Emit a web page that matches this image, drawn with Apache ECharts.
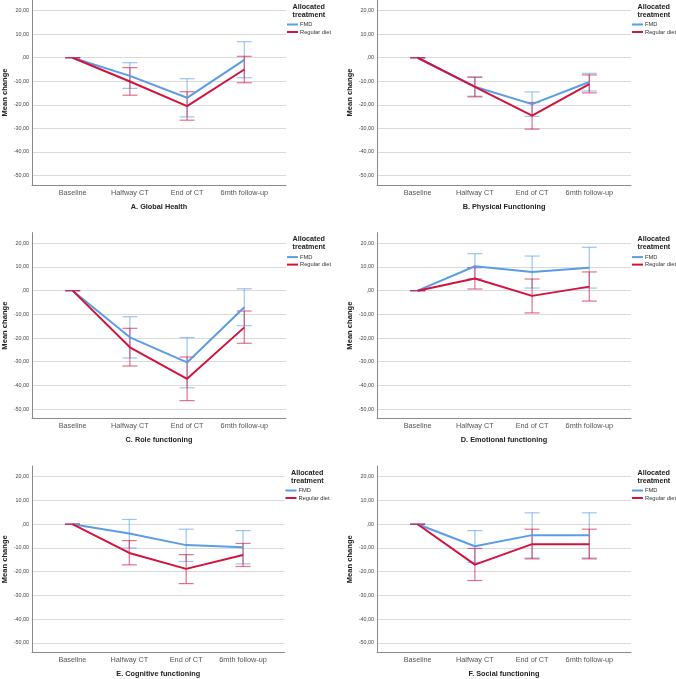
<!DOCTYPE html>
<html>
<head>
<meta charset="utf-8">
<script src="https://cdn.jsdelivr.net/npm/echarts@6/dist/echarts.min.js"></script>
<style>
html,body{margin:0;padding:0;background:#fff;}
#chart{width:676px;height:679px;}
</style>
</head>
<body>
<div id="chart"></div>
<script>
const categories = ['Baseline', 'Halfway CT', 'End of CT', '6mth follow-up'];
const panelTitles = ['A. Global Health', 'B. Physical Functioning', 'C. Role functioning',
  'D. Emotional functioning', 'E. Cognitive functioning', 'F. Social functioning'];
const groupNames = ['FMD', 'Regular diet'];
const yTickValues = [20, 10, 0, -10, -20, -30, -40, -50];

// Panel A
const fmdA = [0, -7.7, -17.0, -0.9];
const fmdA_lo = [0, -13.0, -25.1, -8.5];
const fmdA_hi = [0, -2.1, -8.9, 6.8];
const regA = [0, -10.1, -20.5, -5.0];
const regA_lo = [0, -15.9, -26.5, -10.6];
const regA_hi = [0, -4.2, -14.4, 0.6];
// Panel B
const fmdB = [0, -12.3, -19.7, -10.3];
const fmdB_lo = [0, -16.3, -24.9, -14.1];
const fmdB_hi = [0, -8.3, -14.5, -6.6];
const regB = [0, -12.4, -24.6, -11.2];
const regB_lo = [0, -16.6, -30.3, -14.9];
const regB_hi = [0, -8.2, -19.0, -7.3];
// Panel C
const fmdC = [0, -19.7, -30.3, -7.0];
const fmdC_lo = [0, -28.4, -41.0, -14.8];
const fmdC_hi = [0, -11.0, -19.8, 0.8];
const regC = [0, -23.9, -37.2, -15.5];
const regC_lo = [0, -31.8, -46.4, -22.2];
const regC_hi = [0, -15.9, -28.0, -8.6];
// Panel D
const fmdD = [0, 10.3, 7.9, 9.7];
const fmdD_lo = [0, 5.1, 1.1, 1.1];
const fmdD_hi = [0, 15.6, 14.6, 18.3];
const regD = [0, 5.1, -2.2, 1.7];
const regD_lo = [0, 0.7, -9.4, -4.4];
const regD_hi = [0, 9.7, 4.9, 7.9];
// Panel E
const fmdE = [0, -3.9, -8.8, -9.7];
const fmdE_lo = [0, -10.0, -15.7, -16.7];
const fmdE_hi = [0, 2.0, -2.1, -2.7];
const regE = [0, -12.1, -18.8, -13.0];
const regE_lo = [0, -17.1, -25.0, -17.8];
const regE_hi = [0, -6.9, -12.8, -8.1];
// Panel F
const fmdF = [0, -9.3, -4.6, -4.6];
const fmdF_lo = [0, -16.1, -14.2, -14.2];
const fmdF_hi = [0, -2.7, 4.8, 4.8];
const regF = [0, -17.0, -8.4, -8.4];
const regF_lo = [0, -23.7, -14.6, -14.6];
const regF_hi = [0, -10.2, -2.1, -2.1];

const panels = [
  {fmd: fmdA, fmdLo: fmdA_lo, fmdHi: fmdA_hi, reg: regA, regLo: regA_lo, regHi: regA_hi},
  {fmd: fmdB, fmdLo: fmdB_lo, fmdHi: fmdB_hi, reg: regB, regLo: regB_lo, regHi: regB_hi},
  {fmd: fmdC, fmdLo: fmdC_lo, fmdHi: fmdC_hi, reg: regC, regLo: regC_lo, regHi: regC_hi},
  {fmd: fmdD, fmdLo: fmdD_lo, fmdHi: fmdD_hi, reg: regD, regLo: regD_lo, regHi: regD_hi},
  {fmd: fmdE, fmdLo: fmdE_lo, fmdHi: fmdE_hi, reg: regE, regLo: regE_lo, regHi: regE_hi},
  {fmd: fmdF, fmdLo: fmdF_lo, fmdHi: fmdF_hi, reg: regF, regLo: regF_lo, regHi: regF_hi}
];

// layout
const gridBoxes = [
  {left: 32, top: 0, width: 254, height: 185},
  {left: 377, top: 0, width: 254, height: 185},
  {left: 32, top: 232.6, width: 254, height: 186},
  {left: 377, top: 232.6, width: 254, height: 186},
  {left: 31, top: 466, width: 253.5, height: 186.5},
  {left: 377, top: 466, width: 254, height: 186.5}
];

const FONT = 'Liberation Sans, Arial, sans-serif';
const BLUE = '#5B9CE6';
const RED = '#D2123F';
const BLUE_ERR = 'rgba(91,156,230,0.6)';
const RED_ERR = 'rgba(210,18,63,0.6)';

function fmtY(v) {
  if (Math.abs(v % 10) > 1e-6) return '';
  if (v === 0) return ',00';
  return v.toFixed(2).replace('.', ',');
}
function fmtX(v) {
  const r = Math.round(v);
  if (Math.abs(v - r) > 1e-6 || r < 0 || r > 3) return '';
  return categories[r];
}

function errRender(color) {
  return function (params, api) {
    const x = api.value(0);
    const p1 = api.coord([x, api.value(1)]);
    const p2 = api.coord([x, api.value(2)]);
    const hw = 7.5;
    const style = {stroke: color, lineWidth: 1.2};
    return {
      type: 'group',
      children: [
        {type: 'line', shape: {x1: p1[0], y1: p1[1], x2: p2[0], y2: p2[1]}, style: style},
        {type: 'line', shape: {x1: p1[0] - hw, y1: p1[1], x2: p1[0] + hw, y2: p1[1]}, style: style},
        {type: 'line', shape: {x1: p2[0] - hw, y1: p2[1], x2: p2[0] + hw, y2: p2[1]}, style: style}
      ]
    };
  };
}

const grid = [], xAxis = [], yAxis = [], series = [], legend = [], title = [];
panels.forEach((p, i) => {
  const g = gridBoxes[i];
  grid.push({left: g.left, top: g.top, width: g.width, height: g.height, containLabel: false});
  xAxis.push({
    type: 'value', gridIndex: i, min: -0.711, max: 3.729, minInterval: 1, maxInterval: 1, splitNumber: 4,
    axisLine: {show: true, onZero: false, lineStyle: {color: '#8a8a8a', width: 1}},
    axisTick: {show: false},
    splitLine: {show: false},
    axisLabel: {formatter: fmtX, fontSize: 7.3, color: '#555', fontFamily: FONT, margin: 4,
      showMinLabel: false, showMaxLabel: false},
    name: panelTitles[i], nameLocation: 'middle', nameGap: 18,
    nameTextStyle: {fontSize: 7.3, fontWeight: 'bold', color: '#222', fontFamily: FONT}
  });
  yAxis.push({
    type: 'value', gridIndex: i, min: -54, max: 24.5, minInterval: 10, maxInterval: 10, splitNumber: 8,
    axisLine: {show: true, onZero: false, lineStyle: {color: '#8a8a8a', width: 1}},
    axisTick: {show: false},
    splitLine: {show: true, showMinLine: false, showMaxLine: false, lineStyle: {color: '#dadada', width: 1}},
    axisLabel: {formatter: fmtY, fontSize: 5.4, color: '#444', fontFamily: FONT, margin: 3,
      showMinLabel: false, showMaxLabel: false},
    name: 'Mean change', nameLocation: 'middle', nameGap: 23,
    nameTextStyle: {fontSize: 7.6, fontWeight: 'bold', color: '#222', fontFamily: FONT}
  });
  const groups = [
    {name: groupNames[0], mean: p.fmd, lo: p.fmdLo, hi: p.fmdHi, color: BLUE, err: BLUE_ERR},
    {name: groupNames[1], mean: p.reg, lo: p.regLo, hi: p.regHi, color: RED, err: RED_ERR}
  ];
  groups.forEach(gr => {
    series.push({
      type: 'custom', name: gr.name + ' CI', xAxisIndex: i, yAxisIndex: i,
      renderItem: errRender(gr.err), silent: true, z: 3,
      data: gr.mean.map((v, k) => [k, gr.lo[k], gr.hi[k]])
    });
  });
  groups.forEach(gr => {
    series.push({
      type: 'line', name: gr.name, xAxisIndex: i, yAxisIndex: i, symbol: 'none',
      lineStyle: {color: gr.color, width: 2}, itemStyle: {color: gr.color}, z: 4,
      data: gr.mean.map((v, k) => [k, v])
    });
  });
  const right = g.left + g.width;
  legend.push({
    data: groupNames, orient: 'vertical', left: right + 1, top: g.top + 21.5,
    icon: 'rect', itemWidth: 11, itemHeight: 2, itemGap: 1.5, padding: 0,
    textStyle: {fontSize: 5.75, color: '#333', fontFamily: FONT, padding: [0, 0, 0, -3]},
    selectedMode: false
  });
  title.push({
    text: 'Allocated\ntreatment', left: right + 6.5, top: g.top + 3,
    padding: 0,
    textStyle: {fontSize: 7.2, fontWeight: 'bold', color: '#222', fontFamily: FONT, lineHeight: 7.8}
  });
});

const chart = echarts.init(document.getElementById('chart'), null, {renderer: 'canvas'});
chart.setOption({
  backgroundColor: '#ffffff',
  animation: false,
  grid: grid, xAxis: xAxis, yAxis: yAxis, series: series, legend: legend, title: title
});
</script>
</body>
</html>
